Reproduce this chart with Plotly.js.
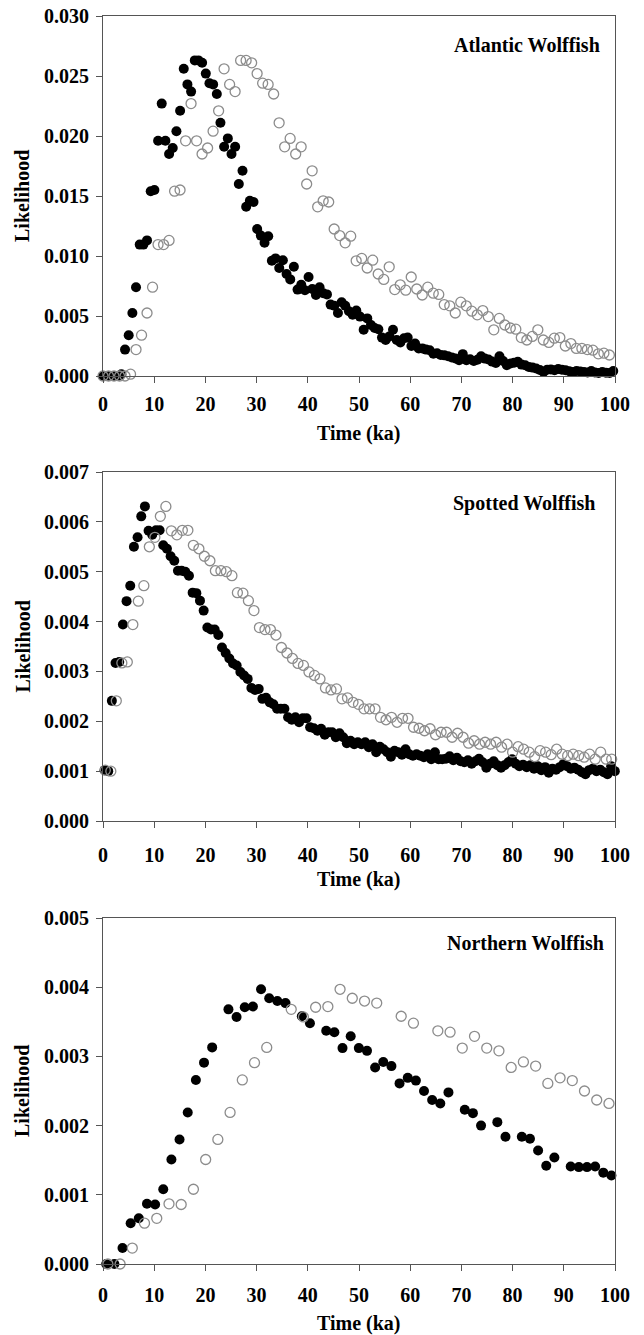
<!DOCTYPE html>
<html>
<head>
<meta charset="utf-8">
<script src="https://cdn.plot.ly/plotly-3.0.1.min.js"></script>
<style>html,body{margin:0;padding:0;background:#fff;}#chart{width:644px;height:1335px;}</style>
</head>
<body>
<div id="chart"></div>
<script>
// ---------- Atlantic Wolffish ----------
const atlanticFilledTime = [0,0.72,1.43,2.15,2.87,3.59,4.30,5.02,5.74,6.45,7.17,7.89,8.60,9.32,10.04,10.76,11.47,12.19,12.91,13.62,14.34,15.06,15.77,16.49,17.21,17.93,18.64,19.36,20.08,20.79,21.51,22.23,22.94,23.66,24.38,25.10,25.81,26.53,27.25,27.96,28.68,29.40,30.11,30.83,31.55,32.27,32.98,33.70,34.42,35.13,35.85,36.57,37.28,38.00,38.72,39.44,40.15,40.87,41.59,42.30,43.02,43.74,44.45,45.17,45.89,46.61,47.32,48.04,48.76,49.47,50.19,50.91,51.62,52.34,53.06,53.78,54.49,55.21,55.93,56.64,57.36,58.08,58.79,59.51,60.23,60.95,61.66,62.38,63.10,63.81,64.53,65.25,65.96,66.68,67.40,68.12,68.83,69.55,70.27,70.98,71.70,72.42,73.13,73.85,74.57,75.29,76.00,76.72,77.44,78.15,78.87,79.59,80.30,81.02,81.74,82.46,83.17,83.89,84.61,85.32,86.04,86.76,87.47,88.19,88.91,89.63,90.34,91.06,91.78,92.49,93.21,93.93,94.64,95.36,96.08,96.80,97.51,98.23,98.95,99.66];
const atlanticFilledLik = [0,0,0,0,0,0.15,2.2,3.4,5.25,7.4,10.95,10.95,11.3,15.4,15.5,19.6,22.7,19.6,18.5,19.0,20.4,22.1,25.6,24.3,23.7,26.3,26.3,26.1,25.2,24.4,24.3,23.5,21.1,19.1,19.8,18.5,19.1,16.0,17.1,14.1,14.6,14.5,12.25,11.7,11.1,11.65,9.6,9.8,9.0,9.65,8.5,8.05,9.1,7.2,7.6,7.15,8.25,7.25,6.75,7.4,6.9,6.8,5.95,5.85,5.25,6.15,5.85,5.4,5.1,5.45,4.95,3.85,4.8,4.25,4.0,3.9,3.2,3.0,3.3,3.85,3.0,2.8,3.15,3.2,2.5,2.7,2.3,2.3,2.2,2.15,1.85,1.9,1.75,1.72,1.65,1.55,1.46,1.32,1.82,1.32,1.40,1.26,1.35,1.65,1.45,1.37,1.20,1.09,1.65,1.25,0.90,1.04,1.10,1.18,0.95,0.90,0.76,0.70,0.62,0.50,0.34,0.53,0.55,0.48,0.59,0.52,0.48,0.40,0.34,0.42,0.38,0.34,0.30,0.42,0.30,0.25,0.34,0.28,0.25,0.42];
const atlanticOpenTime = [0,1.08,2.15,3.23,4.30,5.38,6.45,7.53,8.60,9.68,10.75,11.83,12.90,13.98,15.05,16.13,17.20,18.28,19.35,20.43,21.50,22.58,23.65,24.73,25.80,26.88,27.95,29.03,30.10,31.18,32.25,33.33,34.40,35.48,36.55,37.63,38.70,39.78,40.85,41.93,43.00,44.08,45.15,46.23,47.30,48.38,49.45,50.53,51.60,52.68,53.75,54.83,55.90,56.98,58.05,59.13,60.20,61.28,62.35,63.43,64.50,65.58,66.65,67.73,68.80,69.88,70.95,72.03,73.10,74.18,75.25,76.33,77.40,78.48,79.55,80.63,81.70,82.78,83.85,84.93,86.00,87.08,88.15,89.23,90.30,91.38,92.45,93.53,94.60,95.68,96.75,97.83,98.90];
const atlanticOpenLik = [0,0,0,0,0,0.15,2.2,3.4,5.25,7.4,10.95,10.95,11.3,15.4,15.5,19.6,22.7,19.6,18.5,19.0,20.4,22.1,25.6,24.3,23.7,26.3,26.3,26.1,25.2,24.4,24.3,23.5,21.1,19.1,19.8,18.5,19.1,16.0,17.1,14.1,14.6,14.5,12.25,11.7,11.1,11.65,9.6,9.8,9.0,9.65,8.5,8.05,9.1,7.2,7.6,7.15,8.25,7.25,6.75,7.4,6.9,6.8,5.95,5.85,5.25,6.15,5.85,5.4,5.1,5.45,4.95,3.85,4.8,4.25,4.0,3.9,3.2,3.0,3.3,3.85,3.0,2.8,3.15,3.2,2.5,2.7,2.3,2.3,2.2,2.15,1.85,1.9,1.75];

// ---------- Spotted Wolffish ----------
const spottedFilledTime = [0.30,1.02,1.73,2.45,3.17,3.89,4.60,5.32,6.04,6.75,7.47,8.19,8.90,9.62,10.34,11.06,11.77,12.49,13.21,13.92,14.64,15.36,16.07,16.79,17.51,18.23,18.94,19.66,20.38,21.09,21.81,22.53,23.24,23.96,24.68,25.40,26.11,26.83,27.55,28.26,28.98,29.70,30.41,31.13,31.85,32.57,33.28,34.00,34.72,35.43,36.15,36.87,37.58,38.30,39.02,39.74,40.45,41.17,41.89,42.60,43.32,44.04,44.75,45.47,46.19,46.91,47.62,48.34,49.06,49.77,50.49,51.21,51.92,52.64,53.36,54.08,54.79,55.51,56.23,56.94,57.66,58.38,59.09,59.81,60.53,61.25,61.96,62.68,63.40,64.11,64.83,65.55,66.26,66.98,67.70,68.42,69.13,69.85,70.57,71.28,72.00,72.72,73.43,74.15,74.87,75.59,76.30,77.02,77.74,78.45,79.17,79.89,80.60,81.32,82.04,82.76,83.47,84.19,84.91,85.62,86.34,87.06,87.77,88.49,89.21,89.93,90.64,91.36,92.08,92.79,93.51,94.23,94.94,95.66,96.38,97.10,97.81,98.53,99.25,99.96];
const spottedFilledLik = [1.02,1.00,2.41,3.17,3.19,3.94,4.41,4.72,5.50,5.69,6.11,6.31,5.82,5.74,5.83,5.83,5.53,5.46,5.31,5.22,5.02,5.02,5.00,4.92,4.58,4.57,4.42,4.22,3.88,3.84,3.84,3.73,3.48,3.37,3.26,3.16,3.12,2.99,2.92,2.85,2.67,2.63,2.65,2.45,2.47,2.38,2.34,2.25,2.25,2.25,2.08,2.03,2.08,1.98,2.06,2.06,1.88,1.86,1.81,1.85,1.73,1.78,1.78,1.68,1.76,1.68,1.56,1.61,1.54,1.58,1.54,1.58,1.48,1.54,1.38,1.49,1.44,1.38,1.29,1.41,1.38,1.33,1.44,1.34,1.31,1.34,1.31,1.28,1.34,1.24,1.38,1.24,1.24,1.25,1.30,1.22,1.27,1.20,1.18,1.22,1.15,1.20,1.25,1.18,1.07,1.15,1.20,1.12,1.07,1.12,1.18,1.24,1.15,1.10,1.13,1.08,1.12,1.05,1.10,1.02,1.08,0.97,1.05,1.03,1.08,1.14,1.10,1.05,1.07,1.03,0.98,0.94,1.02,1.05,1.00,1.03,0.98,0.94,1.10,1.00];
const spottedOpenTime = [0.45,1.53,2.60,3.68,4.75,5.83,6.90,7.98,9.05,10.13,11.20,12.28,13.35,14.43,15.50,16.58,17.65,18.73,19.80,20.88,21.95,23.03,24.10,25.18,26.25,27.33,28.40,29.48,30.55,31.63,32.70,33.78,34.85,35.93,37.00,38.08,39.15,40.23,41.30,42.38,43.45,44.53,45.60,46.68,47.75,48.83,49.90,50.98,52.05,53.13,54.20,55.28,56.35,57.43,58.50,59.58,60.65,61.73,62.80,63.88,64.95,66.03,67.10,68.18,69.25,70.33,71.40,72.48,73.55,74.63,75.70,76.78,77.85,78.93,80.00,81.08,82.15,83.23,84.30,85.38,86.45,87.53,88.60,89.68,90.75,91.83,92.90,93.98,95.05,96.13,97.20,98.28,99.35];
const spottedOpenLik = [1.02,1.00,2.41,3.17,3.19,3.94,4.41,4.72,5.50,5.69,6.11,6.31,5.82,5.74,5.83,5.83,5.53,5.46,5.31,5.22,5.02,5.02,5.00,4.92,4.58,4.57,4.42,4.22,3.88,3.84,3.84,3.73,3.48,3.37,3.26,3.16,3.12,2.99,2.92,2.85,2.67,2.63,2.65,2.45,2.47,2.38,2.34,2.25,2.25,2.25,2.08,2.03,2.08,1.98,2.06,2.06,1.88,1.86,1.81,1.85,1.73,1.78,1.78,1.68,1.76,1.68,1.56,1.61,1.54,1.58,1.54,1.58,1.48,1.54,1.38,1.49,1.44,1.38,1.29,1.41,1.38,1.33,1.44,1.34,1.31,1.34,1.31,1.28,1.34,1.24,1.38,1.24,1.24];

// ---------- Northern Wolffish ----------
const northernFilledTime = [0.63,2.22,3.81,5.40,6.99,8.59,10.18,11.77,13.36,14.95,16.55,18.14,19.73,21.32,24.50,26.09,27.69,29.28,30.87,32.46,34.05,35.64,38.83,40.42,43.60,45.19,46.78,48.38,49.97,51.56,53.15,54.74,56.33,57.92,59.52,61.11,62.70,64.29,65.88,67.47,70.66,72.25,73.84,77.02,78.61,81.80,83.39,84.98,86.57,88.16,91.35,92.94,94.53,96.12,97.71,99.30];
const northernFilledLik = [0,0,0.23,0.59,0.66,0.87,0.86,1.08,1.51,1.80,2.19,2.66,2.91,3.13,3.68,3.57,3.71,3.72,3.97,3.84,3.80,3.77,3.58,3.48,3.37,3.35,3.12,3.29,3.12,3.08,2.84,2.92,2.86,2.61,2.69,2.65,2.50,2.37,2.32,2.48,2.23,2.18,2.00,2.05,1.84,1.84,1.81,1.64,1.42,1.54,1.41,1.40,1.40,1.41,1.32,1.28];
const northernOpenTime = [0.95,3.34,5.72,8.11,10.50,12.89,15.27,17.66,20.05,22.43,24.82,27.21,29.59,31.98,36.76,39.14,41.53,43.92,46.30,48.69,51.08,53.46,58.24,60.63,65.40,67.79,70.17,72.56,74.95,77.33,79.72,82.11,84.50,86.88,89.27,91.66,94.04,96.43,98.82];
const northernOpenLik = [0,0,0.23,0.59,0.66,0.87,0.86,1.08,1.51,1.80,2.19,2.66,2.91,3.13,3.68,3.57,3.71,3.72,3.97,3.84,3.80,3.77,3.58,3.48,3.37,3.35,3.12,3.29,3.12,3.08,2.84,2.92,2.86,2.61,2.69,2.65,2.50,2.37,2.32];

const panelNames = ["Atlantic Wolffish", "Spotted Wolffish", "Northern Wolffish"];
const yMax = [0.030, 0.007, 0.005];
const yStep = [0.005, 0.001, 0.001];
const xTitle = "Time (ka)";
const yTitle = "Likelihood";

// ---------- build ----------
const W = 644, H = 1335;
const FONT = "Liberation Serif, 'Times New Roman', Times, serif";
const FS = 20;
const px = v => v / W;
const py = v => 1 - v / H;
const scale = a => a.map(v => v / 1000);

const series = [
  [atlanticFilledTime, atlanticFilledLik, atlanticOpenTime, atlanticOpenLik],
  [spottedFilledTime, spottedFilledLik, spottedOpenTime, spottedOpenLik],
  [northernFilledTime, northernFilledLik, northernOpenTime, northernOpenLik]
];
// pixel geometry of the three plot boxes [top, bottom]
const boxes = [[16, 376], [472, 821], [918, 1264]];
const xL = 103, xR = 615;
const tickStand = [4, 10, 7];
const xTitleY = [433, 880, 1323];
const labelPos = [[602, 45], [597, 503], [606, 943]];

const traces = [];
const layout = {
  width: W, height: H,
  margin: {l: 0, r: 0, t: 0, b: 0},
  paper_bgcolor: "#fff", plot_bgcolor: "#fff",
  showlegend: false,
  font: {family: FONT, size: FS, color: "#000", weight: "bold"},
  annotations: []
};
const axisCommon = {
  showline: true, mirror: true, linecolor: "#555", linewidth: 1,
  ticks: "outside", ticklen: 6, tickwidth: 1, tickcolor: "#555",
  showgrid: false, zeroline: false, fixedrange: true,
  tickfont: {family: FONT, size: FS, color: "#000", weight: "bold"}
};

for (let p = 0; p < 3; p++) {
  const s = p === 0 ? "" : String(p + 1);
  const [ft, fl, ot, ol] = series[p];
  traces.push({
    x: ft, y: scale(fl), xaxis: "x" + s, yaxis: "y" + s,
    type: "scatter", mode: "markers", cliponaxis: false, hoverinfo: "skip",
    marker: {symbol: "circle", size: 10, color: "#000", line: {width: 0}}
  });
  traces.push({
    x: ot, y: scale(ol), xaxis: "x" + s, yaxis: "y" + s,
    type: "scatter", mode: "markers", cliponaxis: false, hoverinfo: "skip",
    marker: {symbol: "circle-open", size: 10, color: "#8c8c8c", line: {width: 1.3}}
  });
  const [top, bot] = boxes[p];
  layout["xaxis" + s] = Object.assign({}, axisCommon, {
    domain: [px(xL), px(xR)], range: [0, 100], dtick: 10, tick0: 0,
    anchor: "y" + s, ticklabelstandoff: tickStand[p]
  });
  layout["yaxis" + s] = Object.assign({}, axisCommon, {
    domain: [py(bot), py(top)], range: [0, yMax[p]], dtick: yStep[p], tick0: 0,
    tickformat: ".3f", anchor: "x" + s, ticklabelstandoff: 3
  });
  layout.annotations.push({
    xref: "paper", yref: "paper", x: px(22), y: py((top + bot) / 2),
    text: yTitle, showarrow: false, textangle: -90,
    xanchor: "center", yanchor: "middle",
    font: {family: FONT, size: FS, color: "#000", weight: "bold"}
  });
  layout.annotations.push({
    xref: "paper", yref: "paper", x: px((xL + xR) / 2), y: py(xTitleY[p]),
    text: xTitle, showarrow: false, xanchor: "center", yanchor: "middle",
    font: {family: FONT, size: FS, color: "#000", weight: "bold"}
  });
  layout.annotations.push({
    xref: "paper", yref: "paper", x: px(labelPos[p][0]), y: py(labelPos[p][1]),
    text: panelNames[p], showarrow: false, xanchor: "right", yanchor: "middle",
    font: {family: FONT, size: FS, color: "#000", weight: "bold"}
  });
}

Plotly.newPlot("chart", traces, layout, {displayModeBar: false, staticPlot: true});
</script>
</body>
</html>
